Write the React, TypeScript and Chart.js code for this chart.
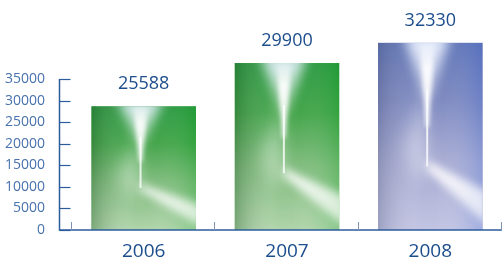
import React, { useEffect, useRef } from "react";
import { Chart, registerables } from "chart.js";

Chart.register(...registerables);

// ---- data ----
const categories = ["2006", "2007", "2008"];
// bar heights
const barHeights = [28700, 38700, 43400];
// value labels printed above bars
const valueLabels = ["25588", "29900", "32330"];
const yTicks = [0, 5000, 10000, 15000, 20000, 25000, 30000, 35000];

// ---- styles ----
type Pal = { top: string; upper: string; mid: string; bottom: string; left: string; right: string; glow: string };
const GREEN: Pal = {
  top: "#23953a",
  upper: "#3ea245",
  mid: "#7fbb7c",
  bottom: "#b0d4aa",
  left: "rgba(40,95,45,0.38)",
  right: "rgba(25,165,45,0.28)",
  glow: "rgba(225,238,248,0.95)",
};
const BLUE: Pal = {
  top: "#5b70b3",
  upper: "#7a86be",
  mid: "#a6aad2",
  bottom: "#c2c4e2",
  left: "rgba(80,88,125,0.32)",
  right: "rgba(70,110,215,0.28)",
  glow: "rgba(235,242,255,0.95)",
};
const palettes = [GREEN, GREEN, BLUE];
const AXIS = "#2c5c9c";
const TICK_TEXT = "#4872ad";
const LABEL_TEXT = "#1c4d8c";
const FONT = "'Open Sans', 'Noto Sans', sans-serif";

function drawTexture(ctx: CanvasRenderingContext2D, x0: number, y0: number, w: number, h: number, p: Pal) {
  ctx.save();
  ctx.beginPath();
  ctx.rect(x0, y0, w, h);
  ctx.clip();
  let g = ctx.createLinearGradient(0, y0, 0, y0 + h);
  g.addColorStop(0, p.top);
  g.addColorStop(0.3, p.upper);
  g.addColorStop(0.62, p.mid);
  g.addColorStop(1, p.bottom);
  ctx.fillStyle = g;
  ctx.fillRect(x0, y0, w, h);

  g = ctx.createLinearGradient(x0, 0, x0 + w, 0);
  g.addColorStop(0, p.left);
  g.addColorStop(0.42, "rgba(255,255,255,0)");
  g.addColorStop(0.55, "rgba(255,255,255,0)");
  g.addColorStop(1, p.right);
  ctx.fillStyle = g;
  ctx.fillRect(x0, y0, w, h);

  const cx = x0 + w * 0.47;
  // V-shaped glow at top
  ctx.filter = "blur(6px)";
  ctx.beginPath();
  ctx.moveTo(cx - w * 0.22, y0 - 8);
  ctx.lineTo(cx + w * 0.22, y0 - 8);
  ctx.lineTo(cx + 3, y0 + h * 0.3);
  ctx.lineTo(cx - 3, y0 + h * 0.3);
  ctx.closePath();
  g = ctx.createLinearGradient(0, y0, 0, y0 + h * 0.3);
  g.addColorStop(0, p.glow);
  g.addColorStop(1, "rgba(255,255,255,0.55)");
  ctx.fillStyle = g;
  ctx.fill();

  // pale glow spreading to the left of streak
  ctx.filter = "blur(8px)";
  ctx.beginPath();
  ctx.moveTo(cx, y0 + h * 0.2);
  ctx.lineTo(cx - w * 0.22, y0 + h * 0.55);
  ctx.lineTo(cx - w * 0.1, y0 + h * 0.75);
  ctx.lineTo(cx + 2, y0 + h * 0.68);
  ctx.closePath();
  ctx.fillStyle = "rgba(255,255,255,0.38)";
  ctx.fill();

  // tapered flame, fading in from the top
  ctx.filter = "blur(2px)";
  ctx.beginPath();
  ctx.moveTo(cx - 7, y0);
  ctx.lineTo(cx + 7, y0);
  ctx.lineTo(cx + 1.5, y0 + h * 0.45);
  ctx.lineTo(cx - 1.5, y0 + h * 0.45);
  ctx.closePath();
  g = ctx.createLinearGradient(0, y0, 0, y0 + h * 0.45);
  g.addColorStop(0, "rgba(255,255,255,0.2)");
  g.addColorStop(0.3, "rgba(255,255,255,0.9)");
  g.addColorStop(1, "rgba(255,255,255,0.85)");
  ctx.fillStyle = g;
  ctx.fill();

  // thin streak continuing down
  ctx.filter = "blur(0.6px)";
  ctx.strokeStyle = "rgba(255,255,255,0.8)";
  ctx.lineWidth = 2;
  ctx.beginPath();
  ctx.moveTo(cx, y0 + h * 0.25);
  ctx.lineTo(cx, y0 + h * 0.66);
  ctx.stroke();

  // diagonal wedge
  ctx.filter = "blur(4px)";
  ctx.beginPath();
  ctx.moveTo(cx, y0 + h * 0.63);
  ctx.lineTo(x0 + w + 6, y0 + h * 0.8);
  ctx.lineTo(x0 + w + 6, y0 + h * 0.98);
  ctx.lineTo(cx, y0 + h * 0.68);
  ctx.closePath();
  g = ctx.createLinearGradient(cx, 0, x0 + w, 0);
  g.addColorStop(0, "rgba(255,255,255,0.9)");
  g.addColorStop(1, "rgba(255,255,255,0.7)");
  ctx.fillStyle = g;
  ctx.fill();
  ctx.restore();
}

const decorPlugin = {
  id: "decor",
  afterDatasetsDraw(chart: any) {
    const ctx = chart.ctx as CanvasRenderingContext2D;
    const meta = chart.getDatasetMeta(0);
    meta.data.forEach((bar: any, i: number) => {
      const x0 = bar.x - bar.width / 2;
      const y0 = bar.y;
      drawTexture(ctx, x0, y0, bar.width, bar.base - bar.y, palettes[i]);
    });
  },
  afterDraw(chart: any) {
    const ctx = chart.ctx as CanvasRenderingContext2D;
    const ys = chart.scales.y;
    const xs = chart.scales.x;
    const base = ys.getPixelForValue(0);
    const axisX = 59.5;
    ctx.save();
    // y axis
    ctx.strokeStyle = AXIS;
    ctx.lineWidth = 1.5;
    ctx.beginPath();
    ctx.moveTo(axisX, ys.getPixelForValue(yTicks[yTicks.length - 1]));
    ctx.lineTo(axisX, base);
    ctx.lineTo(chart.width, base);
    ctx.stroke();
    ctx.lineWidth = 1.2;
    ctx.font = `14px ${FONT}`;
    ctx.fillStyle = TICK_TEXT;
    ctx.textAlign = "right";
    ctx.textBaseline = "middle";
    yTicks.forEach((t) => {
      const py = Math.round(ys.getPixelForValue(t)) + 0.5;
      ctx.beginPath();
      ctx.moveTo(axisX, py);
      ctx.lineTo(axisX + 11, py);
      ctx.stroke();
      ctx.fillText(String(t), 45, py);
    });
    // small category boundary ticks
    ctx.strokeStyle = "#7f93b0";
    ctx.lineWidth = 1;
    const half = (xs.getPixelForValue(1) - xs.getPixelForValue(0)) / 2;
    for (let i = 0; i <= categories.length; i++) {
      const px = Math.round(xs.getPixelForValue(0) - half + i * 2 * half) - 0.5;
      ctx.beginPath();
      ctx.moveTo(px, base - 8);
      ctx.lineTo(px, base);
      ctx.stroke();
    }
    // category labels
    ctx.font = `19px ${FONT}`;
    ctx.fillStyle = LABEL_TEXT;
    ctx.textAlign = "center";
    ctx.textBaseline = "middle";
    categories.forEach((c, i) => {
      ctx.fillText(c, xs.getPixelForValue(i), 252);
    });
    // value labels
    ctx.font = `18px ${FONT}`;
    const meta = chart.getDatasetMeta(0);
    meta.data.forEach((bar: any, i: number) => {
      ctx.fillText(valueLabels[i], bar.x, bar.y - 22);
    });
    ctx.restore();
  },
};

export default function App() {
  const ref = useRef<HTMLCanvasElement>(null);
  useEffect(() => {
    document.body.style.margin = "0";
    const chart = new Chart(ref.current!, {
      type: "bar",
      data: {
        labels: categories,
        datasets: [
          {
            data: barHeights,
            backgroundColor: ["#86bf83", "#86bf83", "#a9acd4"],
            borderWidth: 0,
            barPercentage: 0.73,
            categoryPercentage: 1,
          },
        ],
      },
      options: {
        animation: false,
        responsive: false,
        devicePixelRatio: 1,
        layout: { padding: { left: 72, right: 0, top: 30, bottom: 32 } },
        plugins: { legend: { display: false }, tooltip: { enabled: false } },
        scales: {
          x: { display: false },
          y: { display: false, min: 0, max: 46360 },
        },
      },
      plugins: [decorPlugin],
    });
    return () => chart.destroy();
  }, []);
  return (
    <div style={{ width: 502, height: 262, background: "#fff" }}>
      <canvas ref={ref} width={502} height={262} />
    </div>
  );
}
